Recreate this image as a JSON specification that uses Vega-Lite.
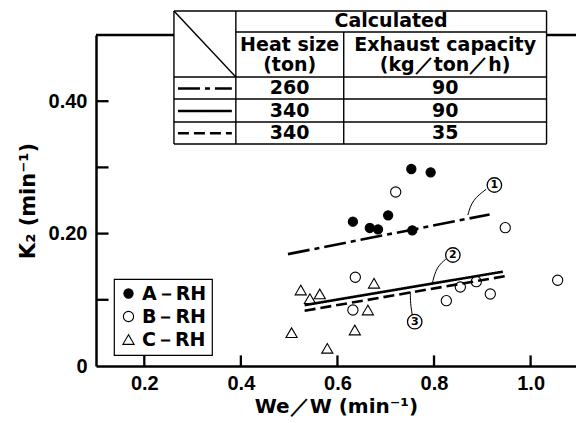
{
  "$schema": "https://vega.github.io/schema/vega-lite/v6.json",
  "width": 480,
  "height": 331,
  "autosize": {"type": "none"},
  "padding": {"left": 96, "top": 35, "right": 0, "bottom": 57},
  "background": "white",
  "config": {
    "view": {"stroke": null},
    "font": "DejaVu Sans",
    "axis": {
      "domainColor": "black", "domainWidth": 2.5, "ticks": false,
      "labelFont": "Liberation Sans", "labelFontWeight": "bold", "labelFontSize": 20, "labelColor": "black",
      "titleFont": "DejaVu Sans", "titleFontWeight": "bold", "titleColor": "black", "grid": false
    },
    "legend": {
      "orient": "none", "legendX": 18, "legendY": 244, "title": null,
      "strokeColor": "black", "strokeWidth": 1.2, "fillColor": "white", "padding": 5,
      "labelFont": "DejaVu Sans", "labelFontWeight": "bold", "labelFontSize": 19, "labelColor": "black",
      "symbolStrokeWidth": 1.1, "rowPadding": 3, "labelOffset": 4
    }
  },
  "datasets": {
    "pts": [
      {"x": 0.753, "y": 0.2976, "s": "A－RH"},
      {"x": 0.793, "y": 0.2926, "s": "A－RH"},
      {"x": 0.632, "y": 0.218, "s": "A－RH"},
      {"x": 0.667, "y": 0.2085, "s": "A－RH"},
      {"x": 0.684, "y": 0.2065, "s": "A－RH"},
      {"x": 0.705, "y": 0.2276, "s": "A－RH"},
      {"x": 0.755, "y": 0.205, "s": "A－RH"},
      {"x": 0.7206, "y": 0.2628, "s": "B－RH"},
      {"x": 0.9475, "y": 0.209, "s": "B－RH"},
      {"x": 0.637, "y": 0.134, "s": "B－RH"},
      {"x": 1.056, "y": 0.1295, "s": "B－RH"},
      {"x": 0.632, "y": 0.0846, "s": "B－RH"},
      {"x": 0.8255, "y": 0.0987, "s": "B－RH"},
      {"x": 0.8545, "y": 0.1193, "s": "B－RH"},
      {"x": 0.8875, "y": 0.1274, "s": "B－RH"},
      {"x": 0.9165, "y": 0.1088, "s": "B－RH"},
      {"x": 0.524, "y": 0.1148, "s": "C－RH"},
      {"x": 0.543, "y": 0.1017, "s": "C－RH"},
      {"x": 0.5634, "y": 0.1088, "s": "C－RH"},
      {"x": 0.6757, "y": 0.125, "s": "C－RH"},
      {"x": 0.663, "y": 0.0846, "s": "C－RH"},
      {"x": 0.505, "y": 0.0503, "s": "C－RH"},
      {"x": 0.636, "y": 0.0544, "s": "C－RH"},
      {"x": 0.579, "y": 0.0267, "s": "C－RH"}
    ],
    "frame": [
      {"x": 0.1, "x2": 1.094, "y": 0.5, "y2": 0.5},
      {"x": 0.1, "x2": 0.126, "y": 0.1, "y2": 0.1},
      {"x": 0.1, "x2": 0.126, "y": 0.2, "y2": 0.2},
      {"x": 0.1, "x2": 0.126, "y": 0.3, "y2": 0.3},
      {"x": 0.1, "x2": 0.126, "y": 0.4, "y2": 0.4},
      {"x": 0.2, "x2": 0.2, "y": 0, "y2": 0.016},
      {"x": 0.4, "x2": 0.4, "y": 0, "y2": 0.016},
      {"x": 0.6, "x2": 0.6, "y": 0, "y2": 0.016},
      {"x": 0.8, "x2": 0.8, "y": 0, "y2": 0.016},
      {"x": 1.0, "x2": 1.0, "y": 0, "y2": 0.016}
    ],
    "fit": [
      {"x": 0.4975, "y": 0.169, "c": "1"}, {"x": 0.915, "y": 0.229, "c": "1"},
      {"x": 0.532, "y": 0.092, "c": "2"}, {"x": 0.9426, "y": 0.1425, "c": "2"},
      {"x": 0.532, "y": 0.0835, "c": "3"}, {"x": 0.9497, "y": 0.136, "c": "3"}
    ],
    "lead": [
      {"x": 0.870, "y": 0.228, "c": "1", "k": 1}, {"x": 0.879, "y": 0.2508, "c": "1", "k": 2}, {"x": 0.908, "y": 0.267, "c": "1", "k": 3},
      {"x": 0.7965, "y": 0.125, "c": "2", "k": 1}, {"x": 0.805, "y": 0.150, "c": "2", "k": 2}, {"x": 0.827, "y": 0.1627, "c": "2", "k": 3},
      {"x": 0.751, "y": 0.1122, "c": "3", "k": 1}, {"x": 0.751, "y": 0.0947, "c": "3", "k": 2}, {"x": 0.755, "y": 0.077, "c": "3", "k": 3}
    ],
    "lbl": [
      {"x": 0.925, "y": 0.2734, "t": "1"},
      {"x": 0.839, "y": 0.1677, "t": "2"},
      {"x": 0.760, "y": 0.0669, "t": "3"}
    ],
    "tb": [{"x": 0.2614, "x2": 1.033, "y": 0.3353, "y2": 0.5363}],
    "tl": [
      {"x": 0.2614, "y": 0.5363, "x2": 1.033, "y2": 0.5363},
      {"x": 0.3896, "y": 0.5045, "x2": 1.033, "y2": 0.5045},
      {"x": 0.2614, "y": 0.4366, "x2": 1.033, "y2": 0.4366},
      {"x": 0.2614, "y": 0.4033, "x2": 1.033, "y2": 0.4033},
      {"x": 0.2614, "y": 0.3686, "x2": 1.033, "y2": 0.3686},
      {"x": 0.2614, "y": 0.3353, "x2": 1.033, "y2": 0.3353},
      {"x": 0.2614, "y": 0.5363, "x2": 0.2614, "y2": 0.3353},
      {"x": 0.3896, "y": 0.5363, "x2": 0.3896, "y2": 0.3353},
      {"x": 0.613, "y": 0.5045, "x2": 0.613, "y2": 0.3353},
      {"x": 1.033, "y": 0.5363, "x2": 1.033, "y2": 0.3353},
      {"x": 0.2614, "y": 0.5363, "x2": 0.3896, "y2": 0.4366}
    ],
    "ts": [
      {"x": 0.2697, "x2": 0.3813, "y": 0.4192, "c": "1"},
      {"x": 0.2697, "x2": 0.3813, "y": 0.3852, "c": "2"},
      {"x": 0.2697, "x2": 0.3813, "y": 0.3515, "c": "3"}
    ],
    "tt": [
      {"x": 0.711, "y": 0.5204, "t": "Calculated"},
      {"x": 0.501, "y": 0.4849, "t": "Heat size"},
      {"x": 0.501, "y": 0.4547, "t": "(ton)"},
      {"x": 0.823, "y": 0.4849, "t": "Exhaust capacity"},
      {"x": 0.823, "y": 0.4547, "t": "(kg／ton／h)"},
      {"x": 0.501, "y": 0.4192, "t": "260"},
      {"x": 0.823, "y": 0.4192, "t": "90"},
      {"x": 0.501, "y": 0.3852, "t": "340"},
      {"x": 0.823, "y": 0.3852, "t": "90"},
      {"x": 0.501, "y": 0.3515, "t": "340"},
      {"x": 0.823, "y": 0.3515, "t": "35"}
    ]
  },
  "layer": [
    {
      "data": {"name": "pts"},
      "mark": {"type": "point", "filled": true, "strokeWidth": 1.1, "opacity": 1},
      "encoding": {
        "x": {"field": "x", "type": "quantitative", "scale": {"domain": [0.1, 1.094], "nice": false, "zero": false},
              "axis": {"values": [0.2, 0.4, 0.6, 0.8, 1.0], "format": ".1f", "labelPadding": 7,
                       "title": "We／W (min⁻¹)", "titleFontSize": 20, "titlePadding": 3}},
        "y": {"field": "y", "type": "quantitative", "scale": {"domain": [0, 0.5], "nice": false},
              "axis": {"values": [0, 0.2, 0.4], "labelPadding": 9,
                       "labelExpr": "datum.value == 0 ? '0' : format(datum.value, '.2f')",
                       "title": "K₂ (min⁻¹)", "titleFontSize": 21, "titlePadding": 10}},
        "shape": {"field": "s", "type": "nominal", "scale": {"domain": ["A－RH", "B－RH", "C－RH"], "range": ["circle", "circle", "triangle-up"]}},
        "fill": {"field": "s", "type": "nominal", "scale": {"domain": ["A－RH", "B－RH", "C－RH"], "range": ["black", "white", "white"]}},
        "stroke": {"field": "s", "type": "nominal", "scale": {"domain": ["A－RH", "B－RH", "C－RH"], "range": ["black", "black", "black"]}},
        "size": {"field": "s", "type": "nominal", "scale": {"domain": ["A－RH", "B－RH", "C－RH"], "range": [85, 125, 140]}}
      }
    },
    {
      "data": {"name": "frame"},
      "mark": {"type": "rule", "strokeWidth": 2.3, "color": "black"},
      "encoding": {
        "x": {"field": "x", "type": "quantitative"},
        "x2": {"field": "x2"},
        "y": {"field": "y", "type": "quantitative"},
        "y2": {"field": "y2"}
      }
    },
    {
      "data": {"name": "fit"},
      "mark": {"type": "line", "color": "black", "strokeWidth": 2.6},
      "encoding": {
        "x": {"field": "x", "type": "quantitative"},
        "y": {"field": "y", "type": "quantitative"},
        "strokeDash": {"field": "c", "type": "nominal", "scale": {"domain": ["1", "2", "3"], "range": [[22, 5, 5, 5], [1, 0], [11, 5]]}, "legend": null}
      }
    },
    {
      "data": {"name": "lead"},
      "mark": {"type": "line", "color": "black", "strokeWidth": 1, "interpolate": "basis"},
      "encoding": {
        "x": {"field": "x", "type": "quantitative"},
        "y": {"field": "y", "type": "quantitative"},
        "detail": {"field": "c", "type": "nominal"},
        "order": {"field": "k", "type": "quantitative"}
      }
    },
    {
      "data": {"name": "lbl"},
      "mark": {"type": "point", "shape": "circle", "size": 210, "fill": "white", "filled": true, "stroke": "black", "strokeWidth": 1.3, "opacity": 1},
      "encoding": {
        "x": {"field": "x", "type": "quantitative"},
        "y": {"field": "y", "type": "quantitative"}
      }
    },
    {
      "data": {"name": "lbl"},
      "mark": {"type": "text", "font": "DejaVu Sans", "fontWeight": "bold", "fontSize": 11, "color": "black", "baseline": "middle", "align": "center"},
      "encoding": {
        "x": {"field": "x", "type": "quantitative"},
        "y": {"field": "y", "type": "quantitative"},
        "text": {"field": "t"}
      }
    },
    {
      "data": {"name": "tb"},
      "mark": {"type": "rect", "fill": "white"},
      "encoding": {
        "x": {"field": "x", "type": "quantitative"},
        "x2": {"field": "x2"},
        "y": {"field": "y", "type": "quantitative"},
        "y2": {"field": "y2"}
      }
    },
    {
      "data": {"name": "tl"},
      "mark": {"type": "rule", "color": "black", "strokeWidth": 1.4},
      "encoding": {
        "x": {"field": "x", "type": "quantitative"},
        "x2": {"field": "x2"},
        "y": {"field": "y", "type": "quantitative"},
        "y2": {"field": "y2"}
      }
    },
    {
      "data": {"name": "ts"},
      "mark": {"type": "rule", "color": "black", "strokeWidth": 2.4},
      "encoding": {
        "x": {"field": "x", "type": "quantitative"},
        "x2": {"field": "x2"},
        "y": {"field": "y", "type": "quantitative"},
        "strokeDash": {"field": "c", "type": "nominal", "scale": {"domain": ["1", "2", "3"], "range": [[22, 5, 5, 5], [1, 0], [11, 5]]}, "legend": null}
      }
    },
    {
      "data": {"name": "tt"},
      "mark": {"type": "text", "font": "DejaVu Sans", "fontWeight": "bold", "fontSize": 19, "color": "black", "baseline": "middle", "align": "center"},
      "encoding": {
        "x": {"field": "x", "type": "quantitative"},
        "y": {"field": "y", "type": "quantitative"},
        "text": {"field": "t"}
      }
    }
  ]
}
